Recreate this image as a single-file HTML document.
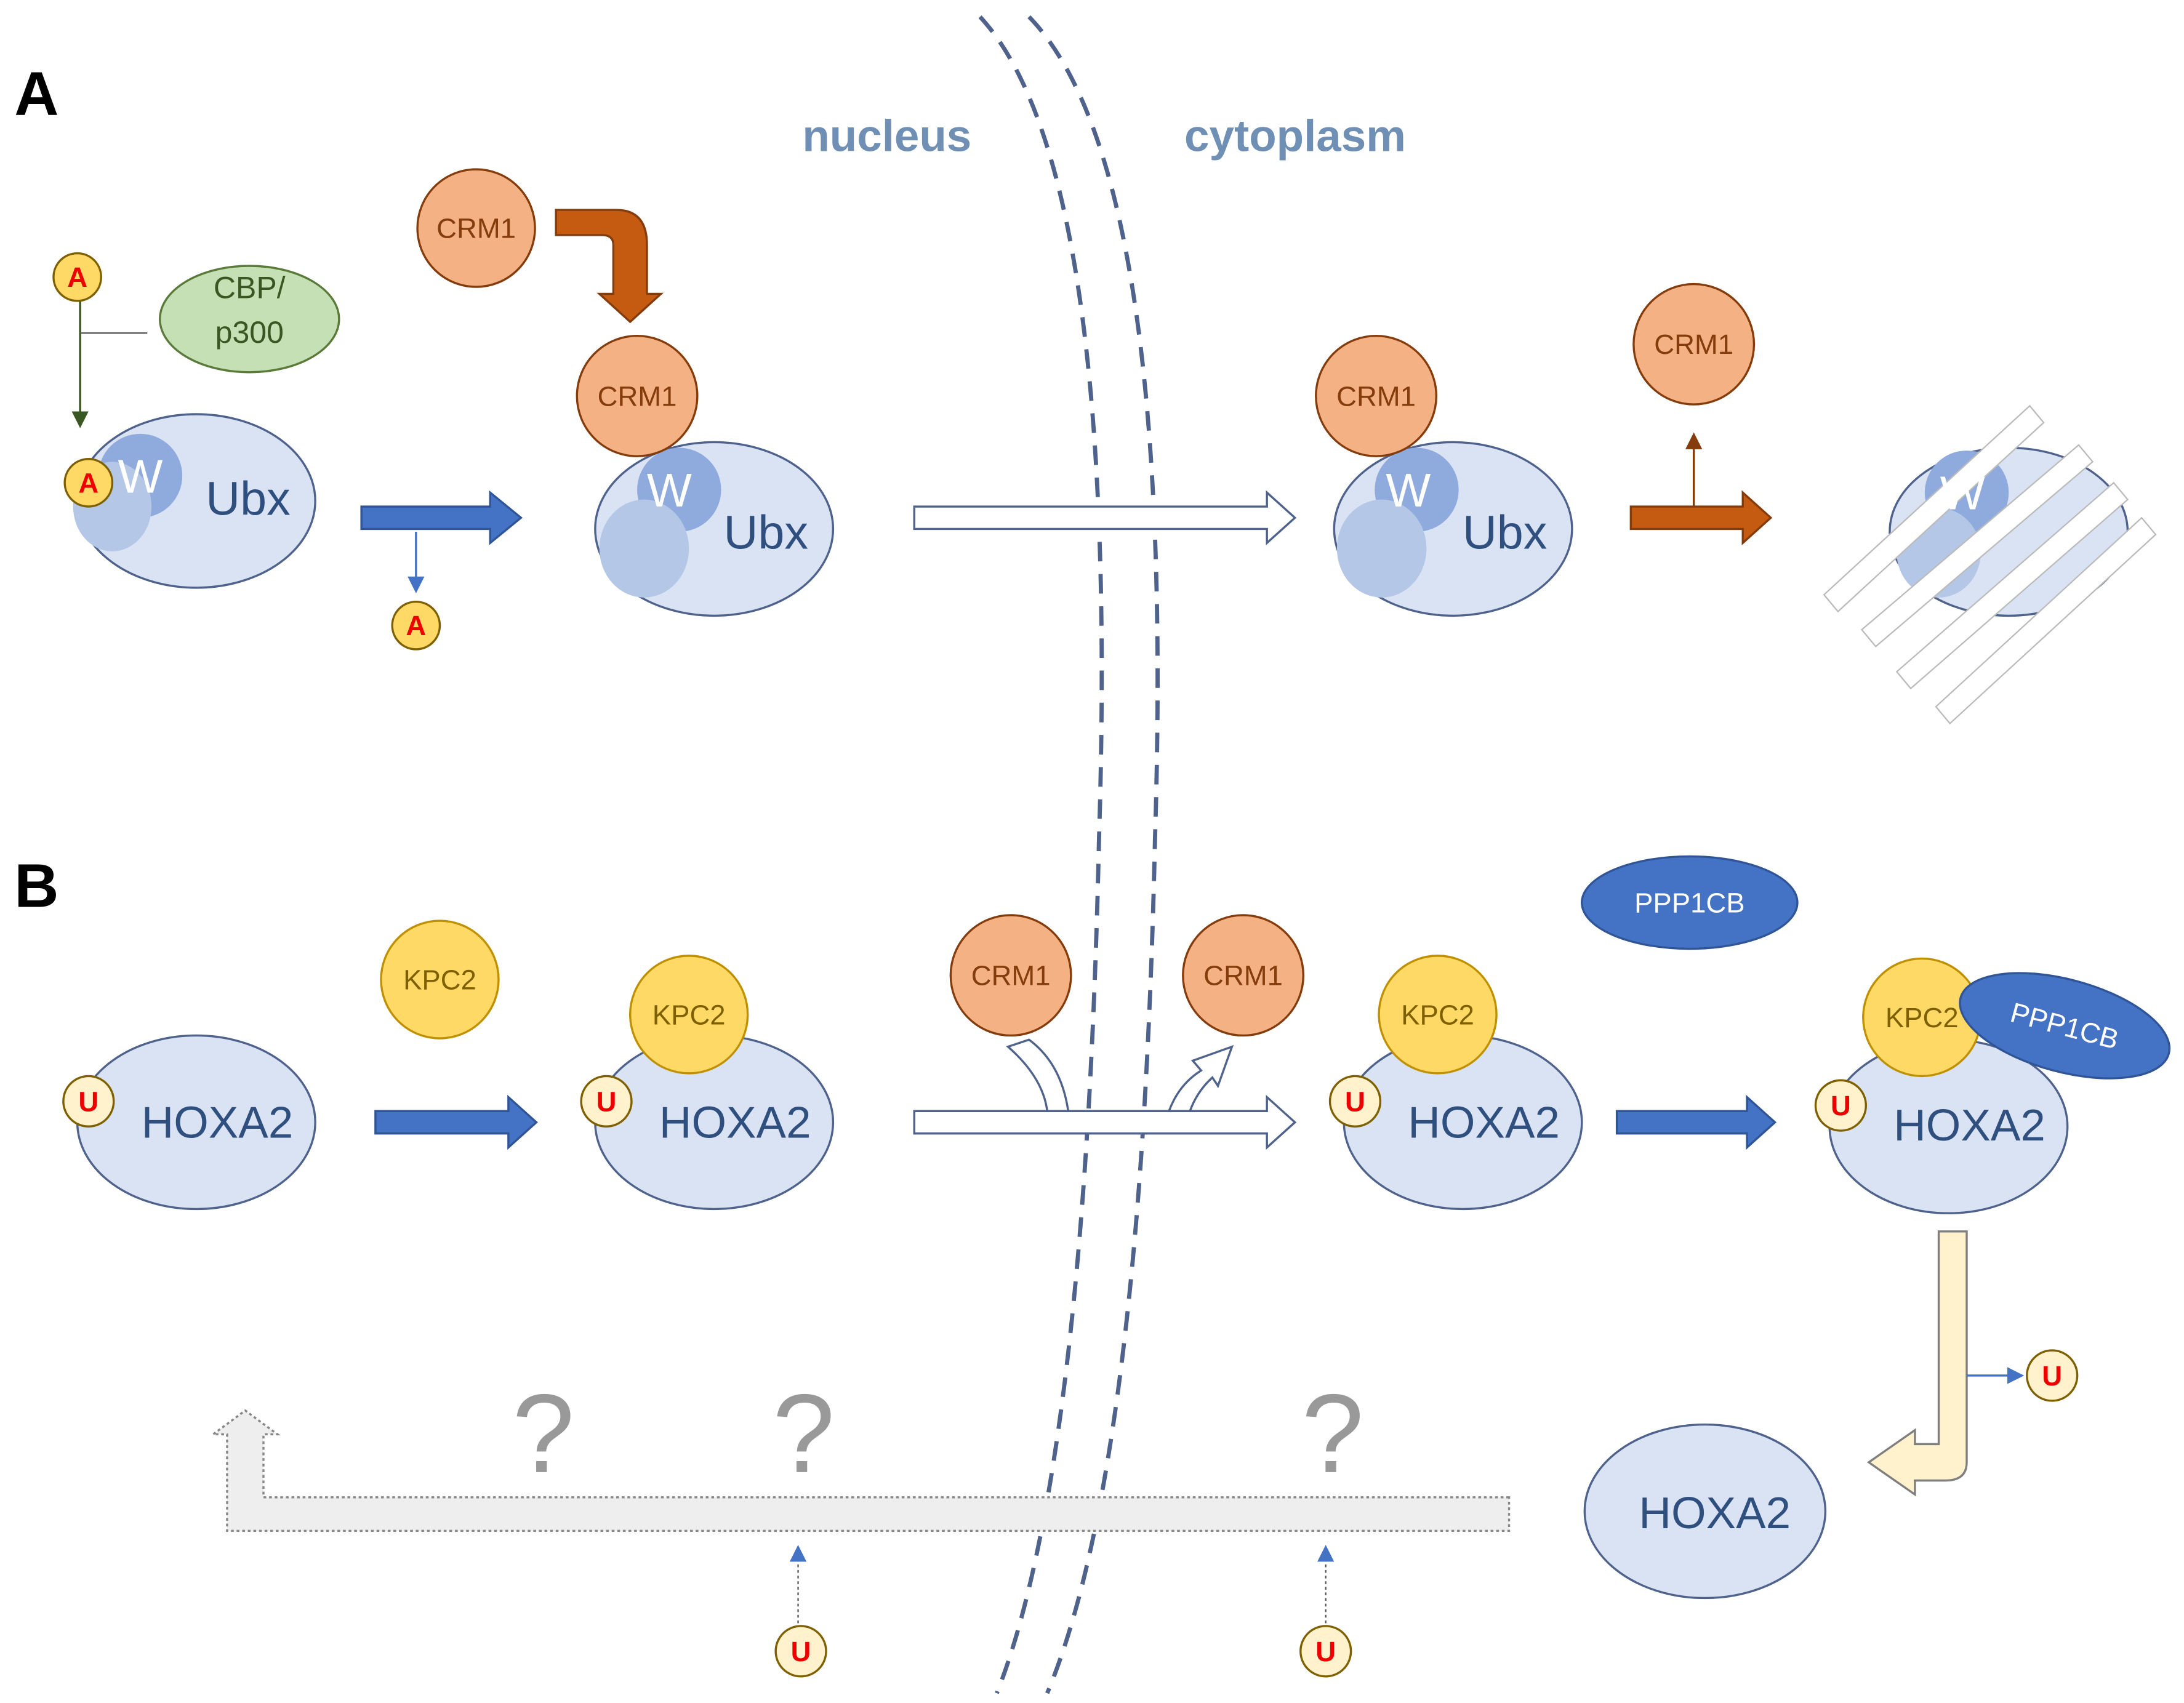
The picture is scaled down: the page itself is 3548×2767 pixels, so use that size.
<!DOCTYPE html>
<html><head><style>html,body{margin:0;padding:0;background:#fff}svg{display:block}</style></head><body>
<svg width="3548" height="2767" viewBox="0 0 1560 1217" xmlns="http://www.w3.org/2000/svg" font-family="'Liberation Sans',sans-serif">
<defs>
<marker id="ag" markerWidth="8" markerHeight="8" refX="4" refY="4" orient="auto"><path d="M0,0 L8,4 L0,8z" fill="#385723"/></marker>
<marker id="ab" markerWidth="8" markerHeight="8" refX="4" refY="4" orient="auto"><path d="M0,0 L8,4 L0,8z" fill="#4472c4"/></marker>
<marker id="ao" markerWidth="8" markerHeight="8" refX="4" refY="4" orient="auto"><path d="M0,0 L8,4 L0,8z" fill="#843c0c"/></marker>
</defs>
<text x="10" y="82" font-size="44" font-weight="bold">A</text>
<text x="10" y="648" font-size="44" font-weight="bold">B</text>
<text x="573" y="108" font-size="32" font-weight="bold" fill="#6f8fb5">nucleus</text>
<text x="846" y="108" font-size="32" font-weight="bold" fill="#6f8fb5">cytoplasm</text>
<path d="M700,12 Q800,120 785,600 Q775,1050 712,1210" fill="none" stroke="#4f628c" stroke-width="3" stroke-dasharray="14,9"/>
<path d="M735,12 Q840,120 825,600 Q815,1050 748,1210" fill="none" stroke="#4f628c" stroke-width="3" stroke-dasharray="14,9"/>
<g stroke="#4f628c" stroke-width="1.5">
<!-- Panel A -->
<ellipse cx="178" cy="228" rx="64" ry="38" fill="#c5e0b4" stroke="#5a7a3a"/>
<ellipse cx="140" cy="358" rx="85" ry="62" fill="#dae3f3"/>
<circle cx="100" cy="340" r="30" fill="#8faadc" stroke="none"/>
<ellipse cx="80" cy="362" rx="28" ry="32" fill="#b4c7e7" stroke="none"/>
<path d="M258,362 H350 V352 L372,370 L350,388 V378 H258z" fill="#4472c4" stroke="#2f5597"/>
<circle cx="340" cy="163" r="42" fill="#f4b183" stroke="#843c0c"/>
<path d="M397,150 H440 Q462,150 462,175 V210 H472 L450,230 L428,210 H438 V175 Q438,168 430,168 H397z" fill="#c55a11" stroke="#843c0c"/>
<ellipse cx="510" cy="378" rx="85" ry="62" fill="#dae3f3"/>
<circle cx="485" cy="350" r="30" fill="#8faadc" stroke="none"/>
<ellipse cx="460" cy="392" rx="32" ry="35" fill="#b4c7e7" stroke="none"/>
<circle cx="455" cy="283" r="43" fill="#f4b183" stroke="#843c0c"/>
<path d="M653,362 H905 V352 L925,370 L905,388 V378 H653z" fill="#fff" stroke="#4f628c"/>
<ellipse cx="1038" cy="378" rx="85" ry="62" fill="#dae3f3"/>
<circle cx="1012" cy="350" r="30" fill="#8faadc" stroke="none"/>
<ellipse cx="987" cy="392" rx="32" ry="35" fill="#b4c7e7" stroke="none"/>
<circle cx="983" cy="283" r="43" fill="#f4b183" stroke="#843c0c"/>
<path d="M1165,362 H1245 V352 L1265,370 L1245,388 V378 H1165z" fill="#c55a11" stroke="#843c0c"/>
<circle cx="1210" cy="246" r="43" fill="#f4b183" stroke="#843c0c"/>
<ellipse cx="1435" cy="380" rx="85" ry="60" fill="#dae3f3"/>
<circle cx="1405" cy="352" r="30" fill="#8faadc" stroke="none"/>
<ellipse cx="1385" cy="395" rx="30" ry="32" fill="#b4c7e7" stroke="none"/>
</g>
<g stroke="#bbb" stroke-width="1" fill="#fff">
<path d="M1303,425 L1450,290 L1460,302 L1313,437z"/>
<path d="M1330,450 L1485,318 L1495,330 L1340,462z"/>
<path d="M1355,480 L1510,345 L1520,357 L1365,492z"/>
<path d="M1383,505 L1530,370 L1540,382 L1393,517z"/>
</g>
<line x1="57" y1="215" x2="57" y2="300" stroke="#385723" stroke-width="1.5" marker-end="url(#ag)"/>
<line x1="57" y1="238" x2="105" y2="238" stroke="#555" stroke-width="1"/>
<line x1="297" y1="380" x2="297" y2="418" stroke="#4472c4" stroke-width="1.5" marker-end="url(#ab)"/>
<line x1="1210" y1="362" x2="1210" y2="315" stroke="#843c0c" stroke-width="1.5" marker-end="url(#ao)"/>
<g font-size="20" fill="#843c0c" text-anchor="middle">
<text x="340" y="170">CRM1</text><text x="455" y="290">CRM1</text><text x="983" y="290">CRM1</text><text x="1210" y="253">CRM1</text>
</g>
<g font-size="22" fill="#385723" text-anchor="middle"><text x="178" y="213">CBP/</text><text x="178" y="245">p300</text></g>
<g font-size="34" fill="#fff" text-anchor="middle"><text x="100" y="352">W</text><text x="478" y="362">W</text><text x="1006" y="362">W</text><text x="1402" y="364">W</text></g>
<g font-size="34" fill="#2f4f7f" text-anchor="middle"><text x="177" y="368">Ubx</text><text x="547" y="392">Ubx</text><text x="1075" y="392">Ubx</text></g>
<g stroke="#7f6000" stroke-width="1.5" fill="#ffd966">
<circle cx="55" cy="198" r="17"/><circle cx="63" cy="345" r="17"/><circle cx="297" cy="447" r="17"/>
</g>
<g font-size="20" font-weight="bold" fill="#e00" text-anchor="middle"><text x="55" y="205">A</text><text x="63" y="352">A</text><text x="297" y="454">A</text></g>
<!-- Panel B -->
<g stroke="#4f628c" stroke-width="1.5">
<path d="M1078,1070 H188 V1025 H198 L175,1008 L152,1025 H162 V1094 H1078z" fill="#eee" stroke="#888" stroke-dasharray="2,2"/>
<ellipse cx="140" cy="802" rx="85" ry="62" fill="#dae3f3"/>
<circle cx="314" cy="700" r="42" fill="#ffd966" stroke="#bf9000"/>
<path d="M268,794 H363 V784 L383,802 L363,820 V810 H268z" fill="#4472c4" stroke="#2f5597"/>
<ellipse cx="510" cy="802" rx="85" ry="62" fill="#dae3f3"/>
<circle cx="492" cy="725" r="42" fill="#ffd966" stroke="#bf9000"/>
<path d="M653,794 H905 V784 L925,802 L905,820 V810 H653z" fill="#fff"/>
<circle cx="722" cy="697" r="43" fill="#f4b183" stroke="#843c0c"/>
<circle cx="888" cy="697" r="43" fill="#f4b183" stroke="#843c0c"/>
<path d="M720,748 Q745,770 748,794 H763 Q758,760 735,743z" fill="#fff"/>
<path d="M835,794 Q842,775 858,765 L852,758 L880,748 L870,776 L866,770 Q855,780 850,794z" fill="#fff"/>
<ellipse cx="1045" cy="802" rx="85" ry="62" fill="#dae3f3"/>
<circle cx="1027" cy="725" r="42" fill="#ffd966" stroke="#bf9000"/>
<path d="M1155,794 H1248 V784 L1268,802 L1248,820 V810 H1155z" fill="#4472c4" stroke="#2f5597"/>
<ellipse cx="1207" cy="645" rx="77" ry="33" fill="#4472c4" stroke="#2f5597"/>
<ellipse cx="1392" cy="805" rx="85" ry="62" fill="#dae3f3"/>
<circle cx="1373" cy="727" r="42" fill="#ffd966" stroke="#bf9000"/>
<ellipse cx="1475" cy="733" rx="77" ry="33" fill="#4472c4" stroke="#2f5597" transform="rotate(15 1475 733)"/>
<path d="M1385,880 H1405 V1045 Q1405,1058 1390,1058 H1368 V1068 L1335,1045 L1368,1022 V1032 H1385z" fill="#fff2cc" stroke="#7f7f7f"/>
<ellipse cx="1218" cy="1080" rx="86" ry="62" fill="#dae3f3"/>
</g>
<g font-size="20" fill="#843c0c" text-anchor="middle"><text x="722" y="704">CRM1</text><text x="888" y="704">CRM1</text></g>
<g font-size="20" fill="#7f6000" text-anchor="middle"><text x="314" y="707">KPC2</text><text x="492" y="732">KPC2</text><text x="1027" y="732">KPC2</text><text x="1373" y="734">KPC2</text></g>
<g font-size="20" fill="#fff" text-anchor="middle"><text x="1207" y="652">PPP1CB</text><text x="1475" y="740" transform="rotate(15 1475 733)">PPP1CB</text></g>
<g font-size="32" fill="#2f4f7f" text-anchor="middle"><text x="155" y="813">HOXA2</text><text x="525" y="813">HOXA2</text><text x="1060" y="813">HOXA2</text><text x="1407" y="815">HOXA2</text><text x="1225" y="1092">HOXA2</text></g>
<g font-size="80" fill="#999" text-anchor="middle"><text x="388" y="1052">?</text><text x="574" y="1052">?</text><text x="952" y="1052">?</text></g>
<line x1="1405" y1="983" x2="1440" y2="983" stroke="#4472c4" stroke-width="1.5" marker-end="url(#ab)"/>
<line x1="570" y1="1160" x2="570" y2="1112" stroke="#555" stroke-width="1" stroke-dasharray="2,2"/>
<path d="M564,1116 L570,1104 L576,1116z" fill="#4472c4"/>
<line x1="947" y1="1160" x2="947" y2="1112" stroke="#555" stroke-width="1" stroke-dasharray="2,2"/>
<path d="M941,1116 L947,1104 L953,1116z" fill="#4472c4"/>
<g stroke="#7f6000" stroke-width="1.5" fill="#fff2cc">
<circle cx="63" cy="787" r="18"/><circle cx="433" cy="787" r="18"/><circle cx="968" cy="787" r="18"/><circle cx="1315" cy="790" r="18"/>
<circle cx="1466" cy="983" r="18"/><circle cx="572" cy="1180" r="18"/><circle cx="947" cy="1180" r="18"/>
</g>
<g font-size="20" font-weight="bold" fill="#e00" text-anchor="middle"><text x="63" y="794">U</text><text x="433" y="794">U</text><text x="968" y="794">U</text><text x="1315" y="797">U</text><text x="1466" y="990">U</text><text x="572" y="1187">U</text><text x="947" y="1187">U</text></g>
</svg>
</body></html>
